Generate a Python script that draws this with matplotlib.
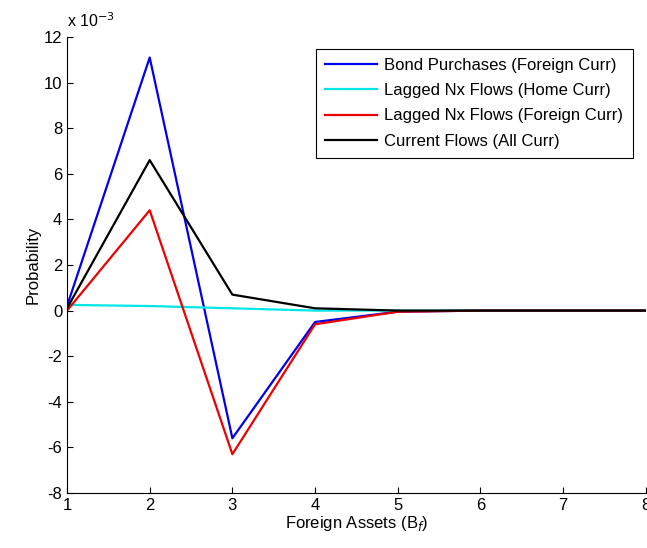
"""
Probability response of foreign asset holdings, MATLAB-style line chart
"""

import matplotlib
matplotlib.use("Agg")
import matplotlib.pyplot as plt

plt.rcParams['font.family'] = ['Liberation Sans', 'DejaVu Sans']
plt.rcParams['axes.unicode_minus'] = False

# foreign asset grid
assets = [1, 2, 3, 4, 5, 6, 7, 8]

# probabilities, in units of 1e-3
bond_foreign = [0.2, 11.1, -5.6, -0.5, -0.05, 0.0, 0.0, 0.0]
nx_home = [0.25, 0.2, 0.1, 0.0, 0.0, 0.0, 0.0, 0.0]
nx_foreign = [0.0, 4.4, -6.3, -0.6, -0.05, 0.0, 0.0, 0.0]
current_all = [0.1, 6.6, 0.7, 0.1, 0.0, 0.0, 0.0, 0.0]

labels = ["Bond Purchases (Foreign Curr)", "Lagged Nx Flows (Home Curr)",
          "Lagged Nx Flows (Foreign Curr)", "Current Flows (All Curr)"]
colors = ["#0000ee", "#00e6e6", "#ee0000", "black"]

fig = plt.figure(figsize=(6.47, 5.48), dpi=100)
ax = fig.add_axes([0.1036, 0.1004, 0.8944, 0.8321])

for series, lab, col in zip([bond_foreign, nx_home, nx_foreign, current_all], labels, colors):
    ax.plot(assets, series, color=col, linewidth=1.6, label=lab)

ax.set_xlim(1, 8)
ax.set_ylim(-8, 12)
ax.set_xticks(range(1, 9))
ax.set_yticks(range(-8, 13, 2))
ax.tick_params(direction="in", length=4, labelsize=12, width=0.8)
ax.spines["top"].set_visible(False)
ax.spines["right"].set_visible(False)

ax.set_xlabel("Foreign Assets (B$_f$)", fontsize=12, labelpad=1)
ax.set_ylabel("Probability", fontsize=12, labelpad=2)
ax.text(0.0, 1.015, "x 10$^{-3}$", transform=ax.transAxes, fontsize=11.5,
        ha="left", va="bottom")

leg = ax.legend(loc="upper right", bbox_to_anchor=(0.983, 0.982), fontsize=12,
                handlelength=3.1, fancybox=False, framealpha=1, borderpad=0.55,
                labelspacing=0.62, handletextpad=0.45, borderaxespad=0.2)
leg.get_frame().set_edgecolor("black")
leg.get_frame().set_linewidth(0.8)

fig.savefig("out.png", dpi=100)
